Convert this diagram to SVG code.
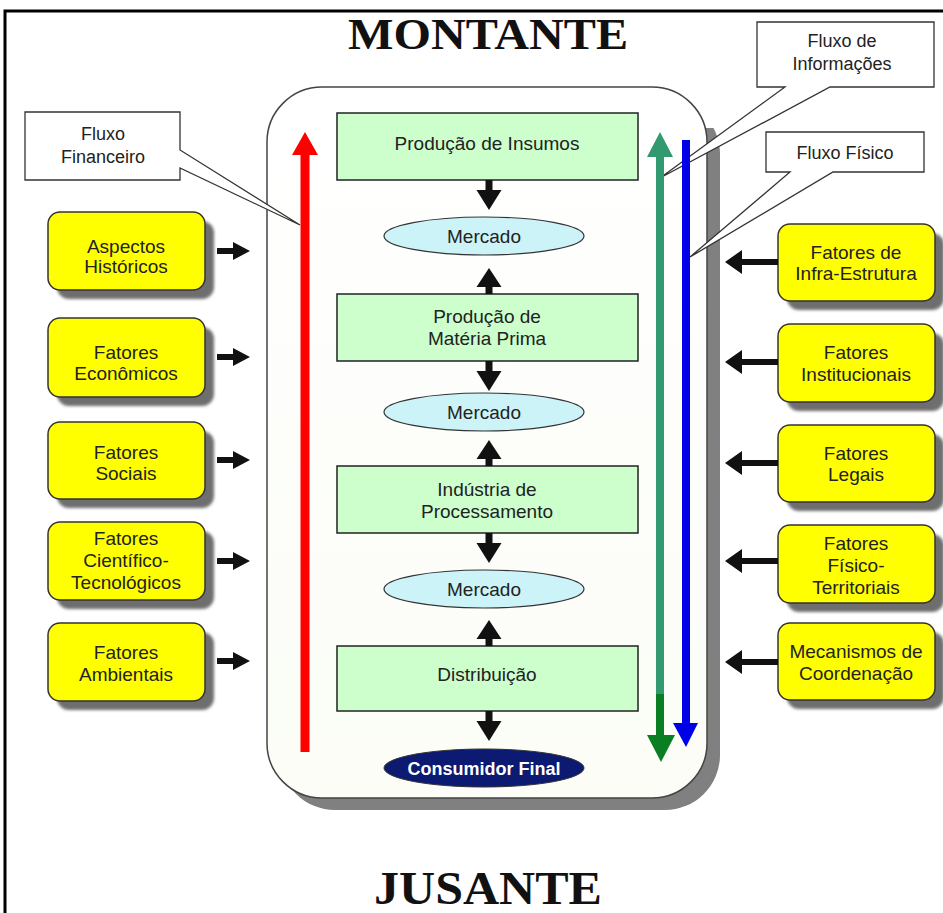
<svg xmlns="http://www.w3.org/2000/svg" width="943" height="913" viewBox="0 0 943 913">
<defs>
<style>
.t{font-family:"Liberation Sans",Arial,sans-serif;font-size:19px;fill:#222;text-anchor:middle}
.c{font-family:"Liberation Sans",Arial,sans-serif;font-size:18px;fill:#222;text-anchor:middle}
.title{font-family:"Liberation Serif","Times New Roman",serif;font-weight:bold;fill:#111;text-anchor:middle}
.green{fill:#ccffcc;stroke:#222;stroke-width:1.5}
.merc{fill:#ccf3f8;stroke:#333;stroke-width:1.2}
.yel{fill:#ffff00;stroke:#333;stroke-width:1.5}
.shd{fill:#6e6e6e;filter:url(#blur)}
.call{fill:#fff;stroke:#333;stroke-width:1.3}
.blk{fill:#111}
</style>
<filter id="blur" x="-10%" y="-10%" width="120%" height="120%"><feGaussianBlur stdDeviation="1.5"/></filter>
<linearGradient id="cont" x1="0" y1="0" x2="0" y2="1"><stop offset="0" stop-color="#ffffff"/><stop offset="1" stop-color="#fbfdf6"/></linearGradient>
<clipPath id="shclip"><rect x="0" y="128" width="943" height="785"/></clipPath>
</defs>
<rect x="0" y="0" width="943" height="913" fill="#fff"/>
<path d="M5,913 V11 H943" fill="none" stroke="#000" stroke-width="3"/>
<text class="title" x="488" y="49" font-size="44" textLength="280" lengthAdjust="spacingAndGlyphs">MONTANTE</text>
<text class="title" x="488" y="904" font-size="46" textLength="228" lengthAdjust="spacingAndGlyphs">JUSANTE</text>

<g id="container">
<rect x="280" y="99" width="440" height="711" rx="55" fill="#808080" clip-path="url(#shclip)"/>
<rect x="267" y="87" width="440" height="711" rx="55" fill="url(#cont)" stroke="#444" stroke-width="1.5"/>
</g>

<g id="callout-financeiro">
<path class="call" d="M25,112 H180 V150 L300,225 L180,168 V180 H25 Z"/>
<text class="c" x="103" y="140">Fluxo</text>
<text class="c" x="103" y="163">Financeiro</text>
</g>
<g id="callout-informacoes">
<path class="call" d="M757,22 H934 V87 H830 L660,178 L785,87 H757 Z"/>
<text class="c" x="842" y="47">Fluxo de</text>
<text class="c" x="842" y="70">Informações</text>
</g>
<g id="callout-fisico">
<path class="call" d="M766,132 H924 V172 H833 L690,257 L790,172 H766 Z"/>
<text class="c" x="845" y="159">Fluxo Físico</text>
</g>

<g id="flows">
<polygon fill="#ff0000" points="300.5,752 300.5,155 292,155 305,132 318,155 309.5,155 309.5,752"/>
<polygon fill="#339970" points="656,695 656,157 647,157 660,132 673,157 664,157 664,695"/>
<polygon fill="#0a7e22" points="656,694 656,735 647,735 661,762 675,735 664,735 664,694"/>
<polygon fill="#0000e6" points="682,140 690,140 690,723 698,723 686,747 673,723 682,723"/>
</g>

<g id="prod-insumos"><rect class="green" x="337" y="113" width="301" height="67"/><text class="t" x="487" y="150">Produção de Insumos</text></g>
<g id="mercado-1"><ellipse class="merc" cx="484" cy="236" rx="100" ry="19"/><text class="t" x="484" y="243">Mercado</text></g>
<g id="prod-materia"><rect class="green" x="337" y="294" width="301" height="67"/><text class="t" x="487" y="323">Produção de</text><text class="t" x="487" y="345">Matéria Prima</text></g>
<g id="mercado-2"><ellipse class="merc" cx="484" cy="412" rx="100" ry="19"/><text class="t" x="484" y="419">Mercado</text></g>
<g id="industria"><rect class="green" x="337" y="466" width="301" height="67"/><text class="t" x="487" y="496">Indústria de</text><text class="t" x="487" y="518">Processamento</text></g>
<g id="mercado-3"><ellipse class="merc" cx="484" cy="589" rx="100" ry="19"/><text class="t" x="484" y="596">Mercado</text></g>
<g id="distribuicao"><rect class="green" x="337" y="646" width="301" height="65"/><text class="t" x="487" y="681">Distribuição</text></g>
<g id="consumidor"><ellipse cx="484" cy="768" rx="100" ry="19" fill="#0c1a72" stroke="#333" stroke-width="1"/><text x="484" y="775" font-family="Liberation Sans,Arial,sans-serif" font-size="18" font-weight="bold" fill="#fff" text-anchor="middle">Consumidor Final</text></g>

<g id="left-factors">
<g id="aspectos"><rect class="shd" x="57" y="221" width="157" height="78" rx="12"/><rect class="yel" x="48" y="212" width="157" height="78" rx="12"/><text class="t" x="126" y="253">Aspectos</text><text class="t" x="126" y="273">Históricos</text></g>
<g id="economicos"><rect class="shd" x="57" y="327" width="157" height="79" rx="12"/><rect class="yel" x="48" y="318" width="157" height="79" rx="12"/><text class="t" x="126" y="359">Fatores</text><text class="t" x="126" y="380">Econômicos</text></g>
<g id="sociais"><rect class="shd" x="57" y="431" width="157" height="77" rx="12"/><rect class="yel" x="48" y="422" width="157" height="77" rx="12"/><text class="t" x="126" y="459">Fatores</text><text class="t" x="126" y="480">Sociais</text></g>
<g id="cientifico"><rect class="shd" x="57" y="531" width="157" height="78" rx="12"/><rect class="yel" x="48" y="522" width="157" height="78" rx="12"/><text class="t" x="126" y="545">Fatores</text><text class="t" x="126" y="567">Científico-</text><text class="t" x="126" y="589">Tecnológicos</text></g>
<g id="ambientais"><rect class="shd" x="57" y="632" width="157" height="78" rx="12"/><rect class="yel" x="48" y="623" width="157" height="78" rx="12"/><text class="t" x="126" y="659">Fatores</text><text class="t" x="126" y="681">Ambientais</text></g>
</g>

<g id="right-factors">
<g id="infra"><rect class="shd" x="787" y="233" width="157" height="77" rx="12"/><rect class="yel" x="778" y="224" width="157" height="77" rx="12"/><text class="t" x="856" y="259">Fatores  de</text><text class="t" x="856" y="280">Infra-Estrutura</text></g>
<g id="institucionais"><rect class="shd" x="787" y="333" width="157" height="78" rx="12"/><rect class="yel" x="778" y="324" width="157" height="78" rx="12"/><text class="t" x="856" y="359">Fatores</text><text class="t" x="856" y="381">Institucionais</text></g>
<g id="legais"><rect class="shd" x="787" y="434" width="157" height="77" rx="12"/><rect class="yel" x="778" y="425" width="157" height="77" rx="12"/><text class="t" x="856" y="460">Fatores</text><text class="t" x="856" y="481">Legais</text></g>
<g id="fisico-territoriais"><rect class="shd" x="787" y="534" width="157" height="78" rx="12"/><rect class="yel" x="778" y="525" width="157" height="78" rx="12"/><text class="t" x="856" y="550">Fatores</text><text class="t" x="856" y="572">Físico-</text><text class="t" x="856" y="594">Territoriais</text></g>
<g id="mecanismos"><rect class="shd" x="787" y="632" width="157" height="77" rx="12"/><rect class="yel" x="778" y="623" width="157" height="77" rx="12"/><text class="t" x="856" y="658">Mecanismos de</text><text class="t" x="856" y="680">Coordenação</text></g>
</g>

<g id="connectors">
<defs>
<path id="dn" d="M-3.5,0 H3.5 V10 H12.5 L0,30 L-12.5,10 H-3.5 Z"/>
<path id="up" d="M0,0 L12.5,19 H3.5 V26 H-3.5 V19 H-12.5 Z"/>
<path id="rt" d="M0,-3 H16 V-9 L33,0 L16,9 V3 H0 Z"/>
</defs>
<use href="#dn" class="blk" x="489" y="180"/>
<use href="#up" class="blk" x="489" y="268"/>
<use href="#dn" class="blk" x="489" y="361"/>
<use href="#up" class="blk" x="489" y="440"/>
<use href="#dn" class="blk" x="489" y="533"/>
<use href="#up" class="blk" x="489" y="620"/>
<use href="#dn" class="blk" x="489" y="711"/>
<use href="#rt" class="blk" x="217" y="251"/>
<use href="#rt" class="blk" x="217" y="357"/>
<use href="#rt" class="blk" x="217" y="460"/>
<use href="#rt" class="blk" x="217" y="561"/>
<use href="#rt" class="blk" x="217" y="661"/>
<path class="blk" d="M778,259 H742 V250 L725,262 L742,274 V265 H778 Z"/>
<path class="blk" d="M778,359 H742 V350 L725,362 L742,374 V365 H778 Z"/>
<path class="blk" d="M778,460 H742 V451 L725,463 L742,475 V466 H778 Z"/>
<path class="blk" d="M778,558 H742 V549 L725,561 L742,573 V564 H778 Z"/>
<path class="blk" d="M778,659 H742 V650 L725,662 L742,674 V665 H778 Z"/>
</g>
</svg>
